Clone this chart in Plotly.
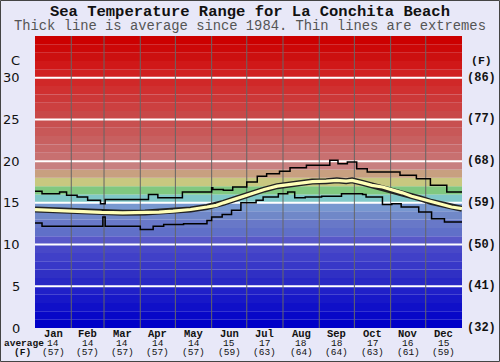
import plotly.graph_objects as go

months = ["Jan","Feb","Mar","Apr","May","Jun","Jul","Aug","Sep","Oct","Nov","Dec"]
month_start = [0,31,59,90,120,151,181,212,243,273,304,334,365]
avg_c = ["14","14","14","14","14","15","17","18","18","17","16","15"]
avg_f = ["(57)","(57)","(57)","(57)","(57)","(59)","(63)","(64)","(64)","(63)","(61)","(59)"]

c_ticks = [0,5,10,15,20,25,30]
f_ticks = ["(32)","(41)","(50)","(59)","(68)","(77)","(86)"]

avg_days = [0,14,28,42,57,75,94,106,118,133,147,155,161,172,184,196,207,222,237,249,258,266,271,280,288,297,305,314,322,330,339,348,356,365]
avg_vals = [14.2,14.1,14.0,13.9,13.85,13.8,13.84,13.9,14.0,14.2,14.5,14.7,15.0,15.5,16.1,16.6,17.0,17.3,17.55,17.6,17.7,17.6,17.7,17.4,17.1,16.9,16.6,16.2,15.8,15.5,15.1,14.8,14.5,14.3]

up_days = [0,6,21,27,36,45,56,60,97,105,126,151,152,161,169,181,190,198,209,218,232,252,259,267,275,284,312,326,338,352,365]
up_vals = [16.4,16.1,16.3,15.9,15.7,15.3,14.9,15.4,16.0,15.6,16.3,16.8,16.6,16.5,16.9,17.5,18.2,18.5,18.8,19.2,19.5,20.1,19.7,19.9,19.1,18.7,18.3,17.9,17.1,16.3,16.3]

lo_days = [0,6,58,60,90,101,110,127,147,151,160,168,176,189,195,208,216,222,231,245,262,280,283,297,305,313,328,339,350,365]
lo_vals = [12.6,12.2,13.3,12.2,11.8,12.2,12.4,12.5,12.9,13.3,13.6,14.1,15.0,15.3,15.7,16.1,16.3,15.6,15.7,15.8,16.1,16.0,15.7,14.8,14.9,14.5,13.9,13.1,12.7,12.7]

band_colors = [
    "#0000c8","#0808c8","#1010c8","#1818c8","#2020c8",
    "#2828c4","#3030c4","#3838c8","#4040c8","#4848c8",
    "#5858c8","#6070c8","#6878c8","#7088c8","#7898d0",
    "#80c8c8","#80c880","#c8c880","#c8a080","#c88080",
    "#c87070","#c86868","#c86060","#c85858","#c85050",
    "#c84848","#cc4040","#cc3838","#d03030","#d02828",
    "#d02020","#d01818","#cc1010","#cc0808","#cc0000",
]

fig = go.Figure()

shapes = []
for i, col in enumerate(band_colors):
    shapes.append(dict(type="rect", xref="x", yref="y", x0=0, x1=365, y0=i, y1=i+1,
                       fillcolor=col, line=dict(width=0), layer="below"))
for t in c_ticks[1:]:
    shapes.append(dict(type="line", xref="x", yref="y", x0=0, x1=365, y0=t, y1=t,
                       line=dict(color="white", width=2), layer="below"))
for d in month_start[1:-1]:
    shapes.append(dict(type="line", xref="x", yref="y", x0=d, x1=d, y0=0, y1=35,
                       line=dict(color="#666666", width=1), layer="below"))
# outer border
shapes.append(dict(type="rect", xref="paper", yref="paper", x0=-34.5/427, x1=1+37.5/427,
                   y0=-33.5/292, y1=1+35.5/292, line=dict(color="#444444", width=1)))

fig.add_trace(go.Scatter(x=up_days, y=up_vals, mode="lines", line=dict(color="black", width=1.5, shape="hv"),
                         hoverinfo="skip"))
fig.add_trace(go.Scatter(x=lo_days, y=lo_vals, mode="lines", line=dict(color="black", width=1.5, shape="hv"),
                         hoverinfo="skip"))
fig.add_trace(go.Scatter(x=avg_days, y=avg_vals, mode="lines", line=dict(color="#222222", width=6),
                         hoverinfo="skip"))
fig.add_trace(go.Scatter(x=avg_days, y=avg_vals, mode="lines", line=dict(color="#ffffb8", width=3.2),
                         hoverinfo="skip"))

mono = "Liberation Mono"
ann = []
ann.append(dict(text="<b>Sea Temperature Range for La Conchita Beach</b>", xref="paper", yref="paper",
                x=0.5*(500)/427 - 35/427, y=1+24/292, showarrow=False,
                font=dict(family=mono, size=15.5, color="#111111"), xanchor="center", yanchor="middle"))
ann.append(dict(text="Thick line is average since 1984. Thin lines are extremes", xref="paper", yref="paper",
                x=0.5*(500)/427 - 35/427, y=1+9/292, showarrow=False,
                font=dict(family=mono, size=13.8, color="#555555"), xanchor="center", yanchor="middle"))
for t, f in zip(c_ticks, f_ticks):
    ann.append(dict(text=str(t), xref="paper", yref="y", x=-13/427, y=t, showarrow=False,
                    font=dict(family="DejaVu Sans", size=13, color="#111111"), xanchor="right", yanchor="middle"))
    ann.append(dict(text="<b>"+f+"</b>", xref="paper", yref="y", x=1+3/427, y=t, showarrow=False,
                    font=dict(family=mono, size=12, color="#111111"), xanchor="left", yanchor="middle"))
ann.append(dict(text="C", xref="paper", yref="y", x=-13/427, y=32.1, showarrow=False,
                font=dict(family="DejaVu Sans", size=13, color="#111111"), xanchor="right", yanchor="middle"))
ann.append(dict(text="<b>(F)</b>", xref="paper", yref="y", x=1+7/427, y=32.1, showarrow=False,
                font=dict(family=mono, size=11.5, color="#111111"), xanchor="left", yanchor="middle"))
for i, m in enumerate(months):
    xc = (month_start[i] + month_start[i+1]) / 2
    ann.append(dict(text="<b>"+m+"</b>", xref="x", yref="paper", x=xc, y=-6/292, showarrow=False,
                    font=dict(family=mono, size=10.5, color="#111111"), xanchor="center", yanchor="middle"))
    ann.append(dict(text=avg_c[i], xref="x", yref="paper", x=xc, y=-15.5/292, showarrow=False,
                    font=dict(family=mono, size=9.5, color="#111111"), xanchor="center", yanchor="middle"))
    ann.append(dict(text=avg_f[i], xref="x", yref="paper", x=xc, y=-24.5/292, showarrow=False,
                    font=dict(family=mono, size=9.5, color="#111111"), xanchor="center", yanchor="middle"))
ann.append(dict(text="<b>average</b>", xref="paper", yref="paper", x=-33/427, y=-15.5/292, showarrow=False,
                font=dict(family=mono, size=9.5, color="#111111"), xanchor="left", yanchor="middle"))
ann.append(dict(text="<b>(F)</b>", xref="paper", yref="paper", x=-23/427, y=-24.5/292, showarrow=False,
                font=dict(family=mono, size=9.5, color="#111111"), xanchor="left", yanchor="middle"))

fig.update_layout(
    width=500, height=362,
    margin=dict(l=35, r=38, t=36, b=34),
    paper_bgcolor="#e8e8f8", plot_bgcolor="#e8e8f8",
    showlegend=False,
    shapes=shapes, annotations=ann,
    xaxis=dict(range=[0, 365], showgrid=False, zeroline=False, showticklabels=False, ticks="", fixedrange=True),
    yaxis=dict(range=[0, 35], showgrid=False, zeroline=False, showticklabels=False, ticks="", fixedrange=True),
)

fig.write_html("out.html", config={"displayModeBar": False})

with open("out.html", "r", encoding="utf-8") as fh:
    html = fh.read()
html = html.replace("<head>", "<head><style>html,body{margin:0;padding:0;overflow:hidden;}</style>", 1)
with open("out.html", "w", encoding="utf-8") as fh:
    fh.write(html)
